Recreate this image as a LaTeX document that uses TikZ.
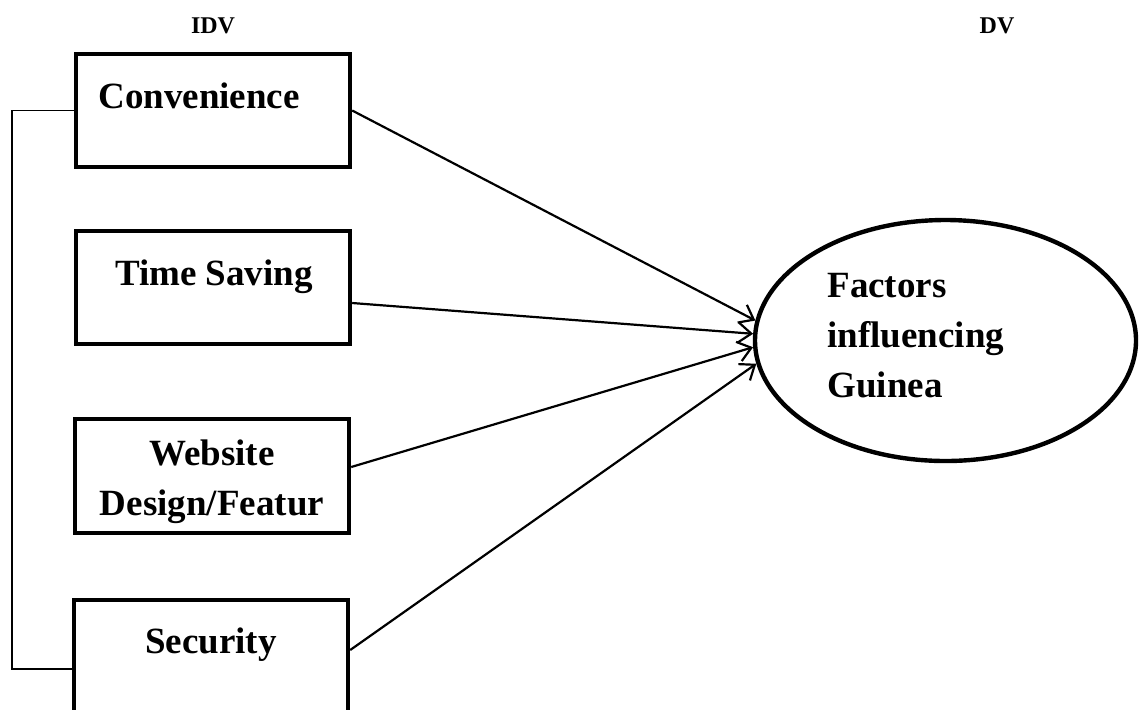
\documentclass[tikz,border=0pt]{standalone}
\usepackage{fontspec}
\setmainfont{Liberation Serif}
\usetikzlibrary{arrows.meta,shapes.geometric}

\begin{document}
\begin{tikzpicture}[x=0.5pt, y=-0.5pt]
        \tikzstyle{varbox} = [rectangle, draw, line width=2.2pt, inner sep=0pt, minimum width=137pt, minimum height=56.5pt]
        \tikzstyle{dvellipse} = [ellipse, draw, line width=2.2pt, inner sep=0pt, minimum width=190.5pt, minimum height=120.5pt]
        \tikzstyle{boxtext} = [inner sep=0pt, anchor=base, font=\fontsize{18.5}{25}\selectfont\bfseries]
        \tikzstyle{headtext} = [inner sep=0pt, anchor=base, font=\fontsize{12}{14}\selectfont\bfseries]
        \tikzstyle{effect} = [line width=1.1pt, -{Straight Barb[length=6.5pt, width=10pt, line width=1.1pt]}]
        \tikzstyle{link} = [line width=0.8pt]
        \useasboundingbox (0,0) rectangle (1139,709);
        \clip (0,0) rectangle (1139,709);
        % headings
        \node[headtext] (idv) at (213,33) {IDV};
        \node[headtext] (dv) at (997,33) {DV};
        % independent variables
        \node[varbox] (conv) at (213,110.5) {};
        \node[varbox] (time) at (213,287.5) {};
        \node[varbox, minimum height=57pt] (web) at (212,476) {};
        \node[varbox, minimum height=69pt] (sec) at (211,669) {};
        \node[boxtext] (tconv) at (199,108) {Convenience};
        \node[boxtext] (ttime) at (214,285) {Time Saving};
        \node[boxtext, align=center] (tweb) at (212,515) {Website\\Design/Featur};
        \node[boxtext] (tsec) at (211,653) {Security};
        % dependent variable
        \node[dvellipse] (fac) at (945.5,340.5) {};
        \node[boxtext, anchor=base west, align=left] (tfac) at (827,397) {Factors\\influencing\\Guinea};
        % arrows
        \draw[effect] (conv.east) -- (fac.174);
        \draw[effect] (time.east |- 0,303) -- (fac.178.5);
        \draw[effect] (web.east |- 0,467) -- (fac.182);
        \draw[effect] (sec.east |- 0,650) -- (fac.187);
        % bracket
        \draw[link] (conv.west) -- (conv.west -| 12,0) |- (sec.west);
\end{tikzpicture}
\end{document}
